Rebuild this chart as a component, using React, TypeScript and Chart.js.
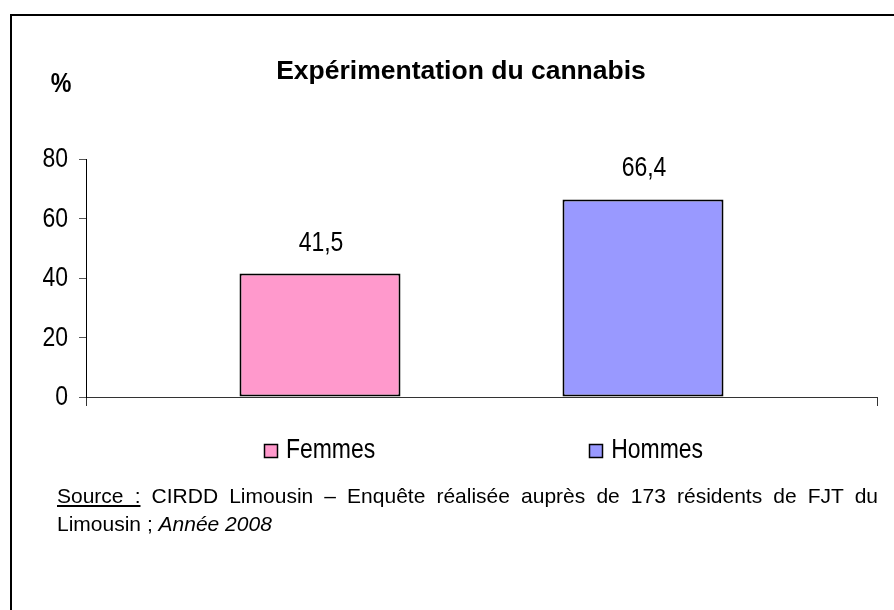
import React, { useEffect, useRef } from "react";
import { Chart, registerables } from "chart.js";

Chart.register(...registerables);

const TITLE = "Expérimentation du cannabis";
const UNIT_LABEL = "%";
const CATEGORIES = [""];
const SERIES_LABELS = ["Femmes", "Hommes"];
const FEMMES = [41.5];
const HOMMES = [66.4];
const SERIES_COLORS = ["#FF99CC", "#9999FF"];
const Y_MIN = 0;
const Y_MAX = 80;
const Y_STEP = 20;

const SANS = "'Liberation Sans', Arial, sans-serif";
const NARROW_SCALE = 0.82;

const fmt = (v: number) => String(v).replace(".", ",");

function narrowText(
  ctx: CanvasRenderingContext2D,
  text: string,
  x: number,
  y: number,
  align: CanvasTextAlign,
  sx: number = NARROW_SCALE
) {
  ctx.save();
  ctx.translate(x, y);
  ctx.scale(sx, 1);
  ctx.textAlign = align;
  ctx.fillText(text, 0, 0);
  ctx.restore();
}

const overlayPlugin = {
  id: "overlay",
  afterDatasetsDraw(chart: any) {
    const ctx = chart.ctx as CanvasRenderingContext2D;
    const ca = chart.chartArea;
    ctx.save();
    ctx.fillStyle = "#000";
    ctx.textBaseline = "alphabetic";

    // title
    ctx.textAlign = "center";
    ctx.font = `bold 26.5px ${SANS}`;
    ctx.fillText(TITLE, 461, 79);

    // unit label
    ctx.font = `bold 27px ${SANS}`;
    narrowText(ctx, UNIT_LABEL, 61, 92, "center", 0.86);

    // y tick labels
    const ys = chart.scales.y;
    ctx.font = `28px ${SANS}`;
    ys.ticks.forEach((t: any) => {
      const py = ys.getPixelForValue(t.value);
      narrowText(ctx, String(t.value), ca.left - 18, py + 8, "right");
    });

    // data labels
    chart.data.datasets.forEach((ds: any, i: number) => {
      const meta = chart.getDatasetMeta(i);
      meta.data.forEach((bar: any, j: number) => {
        narrowText(ctx, fmt(ds.data[j]), bar.x + 1, bar.y - 23, "center");
      });
    });

    // legend
    const box = 13;
    const gapBoxText = 9;
    const itemGap = 214;
    const labels = chart.data.datasets.map((d: any) => d.label as string);
    const widths = labels.map(
      (l: string) => box + gapBoxText + ctx.measureText(l).width * NARROW_SCALE
    );
    const total =
      widths.reduce((a: number, b: number) => a + b, 0) + itemGap * (labels.length - 1);
    let x = (ca.left + ca.right) / 2 - total / 2 + 2;
    const baseline = ca.bottom + 61;
    labels.forEach((l: string, i: number) => {
      const bx = Math.round(x) + 0.5;
      const by = baseline - 14 + 0.5;
      ctx.fillStyle = chart.data.datasets[i].backgroundColor;
      ctx.fillRect(bx, by, box, box);
      ctx.strokeStyle = "#000";
      ctx.lineWidth = 1.5;
      ctx.strokeRect(bx, by, box, box);
      ctx.fillStyle = "#000";
      narrowText(ctx, l, x + box + gapBoxText, baseline, "left");
      x += widths[i] + itemGap;
    });
    ctx.restore();
  },
};

function BarChart() {
  const ref = useRef<HTMLCanvasElement>(null);
  useEffect(() => {
    if (!ref.current) return;
    const chart = new Chart(ref.current, {
      type: "bar",
      data: {
        labels: CATEGORIES,
        datasets: [
          {
            label: SERIES_LABELS[0],
            data: FEMMES,
            backgroundColor: SERIES_COLORS[0],
            borderColor: "#000",
            borderWidth: 2,
            borderSkipped: false,
            categoryPercentage: 0.8167,
            barPercentage: 0.4985,
          },
          {
            label: SERIES_LABELS[1],
            data: HOMMES,
            backgroundColor: SERIES_COLORS[1],
            borderColor: "#000",
            borderWidth: 2,
            borderSkipped: false,
            categoryPercentage: 0.8167,
            barPercentage: 0.4985,
          },
        ],
      },
      options: {
        animation: false,
        responsive: false,
        maintainAspectRatio: false,
        devicePixelRatio: 1,
        layout: { padding: { left: 46, right: 17, top: 159, bottom: 203 } },
        plugins: {
          legend: { display: false },
          title: { display: false },
          tooltip: { enabled: false },
        },
        scales: {
          x: {
            offset: true,
            ticks: { display: false },
            grid: {
              offset: true,
              drawOnChartArea: false,
              drawTicks: true,
              tickLength: 9,
              color: "#333",
              lineWidth: 1,
            },
            border: { display: true, color: "#333", width: 1 },
            afterFit: (s: any) => {
              s.height = 10;
            },
          },
          y: {
            min: Y_MIN,
            max: Y_MAX,
            ticks: {
              stepSize: Y_STEP,
              display: false,
            },
            grid: {
              drawOnChartArea: false,
              drawTicks: true,
              tickLength: 7,
              color: "#555",
              lineWidth: 1,
            },
            border: { display: true, color: "#000", width: 1 },
            afterFit: (s: any) => {
              s.width = 40;
            },
          },
        },
      },
      plugins: [overlayPlugin],
    } as any);
    return () => chart.destroy();
  }, []);
  return (
    <canvas
      ref={ref}
      width={894}
      height={610}
      style={{ position: "absolute", left: 0, top: 0, width: 894, height: 610 }}
    />
  );
}

export default function App() {
  return (
    <div
      style={{
        position: "fixed",
        left: 0,
        top: 0,
        width: 894,
        height: 610,
        overflow: "hidden",
        background: "#fff",
      }}
    >
      <div
        style={{
          position: "absolute",
          left: 10,
          top: 14,
          width: 1000,
          height: 1000,
          border: "2px solid #000",
          boxSizing: "border-box",
        }}
      />
      <BarChart />
      <div
        style={{
          position: "absolute",
          left: 57,
          top: 482,
          width: 821,
          font: `21px ${SANS}`,
          lineHeight: "28px",
          color: "#000",
        }}
      >
        <div style={{ textAlign: "justify", textAlignLast: "justify" }}>
          <span style={{ textDecoration: "underline" }}>Source :</span> CIRDD Limousin – Enquête
          réalisée auprès de 173 résidents de FJT du
        </div>
        <div>
          Limousin ; <i>Année 2008</i>
        </div>
      </div>
    </div>
  );
}
